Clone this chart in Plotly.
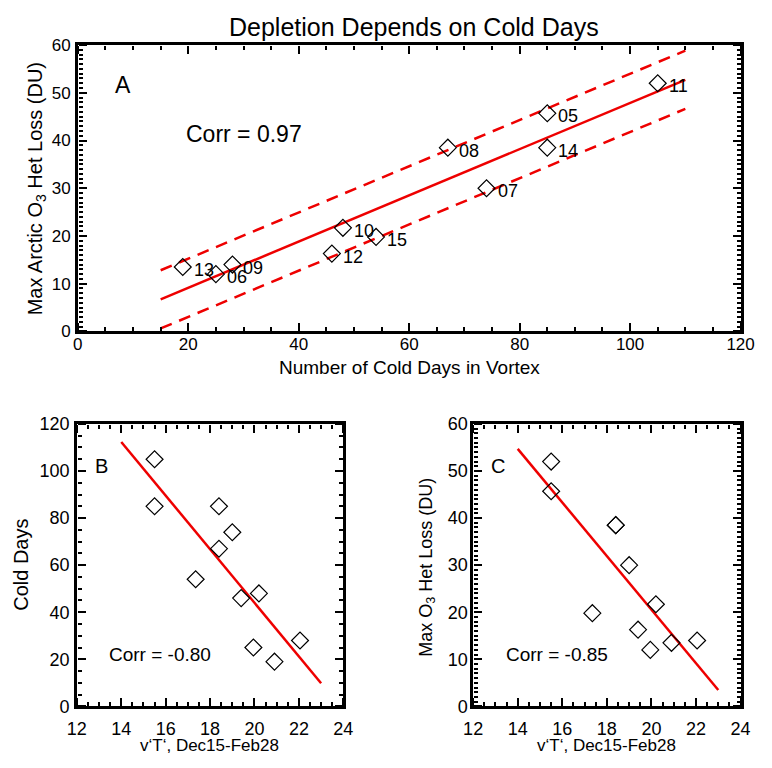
import numpy as np
import plotly.graph_objects as go

# ---- data ----
years = ["13", "06", "09", "12", "10", "15", "08", "07", "05", "14", "11"]
cold_days = [19, 25, 28, 46, 48, 54, 67, 74, 85, 85, 105]
o3_loss = [13.5, 12.0, 14.0, 16.3, 21.7, 19.8, 38.5, 30.0, 45.7, 38.5, 52.0]
vT = [20.9, 19.95, 22.05, 19.4, 20.2, 17.35, 18.4, 19.0, 15.5, 18.4, 15.5]
corr_labels = ["Corr = 0.97", "Corr = -0.80", "Corr = -0.85"]
band_half = 6.1
fitA_range = [15, 110]
fitBC_range = [14, 23]

ARIAL = "Liberation Sans, Arial, sans-serif"
RED = "#ee0000"

fig = go.Figure()

def add_fit(x, y, xr, xa, ya, band=None):
    m, b = np.polyfit(x, y, 1)
    xs = np.array(xr, dtype=float)
    fig.add_trace(go.Scatter(x=xs, y=m * xs + b, mode="lines", xaxis=xa, yaxis=ya,
                             line=dict(color=RED, width=2.5), showlegend=False, hoverinfo="skip"))
    if band is not None:
        for s in (1, -1):
            fig.add_trace(go.Scatter(x=xs, y=m * xs + b + s * band, mode="lines", xaxis=xa, yaxis=ya,
                                     line=dict(color=RED, width=2.5, dash="12px,8px"),
                                     showlegend=False, hoverinfo="skip"))

marker = dict(symbol="diamond-open", size=13, color="black", line=dict(width=1.2, color="black"))

add_fit(cold_days, o3_loss, fitA_range, "x", "y", band=band_half)
fig.add_trace(go.Scatter(x=cold_days, y=o3_loss, mode="markers", marker=marker,
                         xaxis="x", yaxis="y", showlegend=False))
for xv, yv, t in zip(cold_days, o3_loss, years):
    fig.add_annotation(x=xv, y=yv, xref="x", yref="y", text=t, showarrow=False,
                       xanchor="left", yanchor="middle", xshift=9, yshift=-3,
                       font=dict(family=ARIAL, size=18, color="black"))

add_fit(vT, cold_days, fitBC_range, "x2", "y2")
fig.add_trace(go.Scatter(x=vT, y=cold_days, mode="markers", marker=marker,
                         xaxis="x2", yaxis="y2", showlegend=False))
add_fit(vT, o3_loss, fitBC_range, "x3", "y3")
fig.add_trace(go.Scatter(x=vT, y=o3_loss, mode="markers", marker=marker,
                         xaxis="x3", yaxis="y3", showlegend=False))

W, H = 772, 768
def px_x(p): return p / W
def px_y(p): return 1 - p / H

def axis(domain, rng, dtick, anchor, size, standoff):
    return dict(domain=domain, range=rng, dtick=dtick, tick0=0, anchor=anchor,
                showline=True, linewidth=2.5, linecolor="black", mirror=True,
                ticks="", showgrid=False, zeroline=False, ticklabelstandoff=standoff,
                tickfont=dict(family=ARIAL, size=size, color="black"))

def tick_axis(base, rng, dtick, mdtick, side, pos):
    # free axis drawn on the opposite side of the frame so its outside ticks point inward
    return dict(overlaying=base, anchor="free", position=pos, side=side, range=rng,
                dtick=dtick, tick0=0, ticks="outside", ticklen=8, tickwidth=2, tickcolor="black",
                minor=dict(dtick=mdtick, ticks="outside", ticklen=4, tickwidth=1.5, tickcolor="black"),
                showticklabels=False, showgrid=False, zeroline=False, showline=False)

XA, YA = [px_x(70), px_x(754)], [px_y(330), px_y(36)]
XB, YBC = [px_x(69), px_x(344)], [px_y(715), px_y(425)]
XC = [px_x(478), px_x(754)]

layout = dict(
    width=W, height=H, autosize=False, margin=dict(l=0, r=0, t=0, b=0),
    paper_bgcolor="white", plot_bgcolor="white",
    xaxis=axis(XA, [0, 120], 20, "y", 17, -5),
    yaxis=axis(YA, [0, 60], 10, "x", 17, 1),
    xaxis2=axis(XB, [12, 24], 2, "y2", 18, 4),
    yaxis2=axis(YBC, [0, 120], 20, "x2", 18, 1),
    xaxis3=axis(XC, [12, 24], 2, "y3", 18, 4),
    yaxis3=axis(YBC, [0, 60], 10, "x3", 18, -1),
)

panels = [
    ("x", "y", XA, YA, [0, 120], 20, 5, [0, 60], 10, 1),
    ("x2", "y2", XB, YBC, [12, 24], 2, 0.5, [0, 120], 20, 5),
    ("x3", "y3", XC, YBC, [12, 24], 2, 0.5, [0, 60], 10, 1),
]
n = 4
for bx, by, xd, yd, xr, xdt, xm, yr, ydt, ym in panels:
    ia, ib = n, n + 1
    layout[f"xaxis{ia}"] = tick_axis(bx, xr, xdt, xm, "top", yd[0])
    layout[f"xaxis{ib}"] = tick_axis(bx, xr, xdt, xm, "bottom", yd[1])
    layout[f"yaxis{ia}"] = tick_axis(by, yr, ydt, ym, "right", xd[0])
    layout[f"yaxis{ib}"] = tick_axis(by, yr, ydt, ym, "left", xd[1])
    for k in (ia, ib):
        fig.add_trace(go.Scatter(x=[None], y=[None], xaxis=f"x{k}", yaxis=f"y{k}",
                                 showlegend=False, hoverinfo="skip"))
    n += 2

fig.update_layout(**layout)

def note(text, x, y, xref, yref, size, angle=0):
    fig.add_annotation(text=text, x=x, y=y, xref=xref, yref=yref, showarrow=False,
                       textangle=angle, xanchor="center", yanchor="middle",
                       font=dict(family=ARIAL, size=size, color="black"))

note("Depletion Depends on Cold Days", px_x(417), px_y(17), "paper", "paper", 25)
note("Number of Cold Days in Vortex", px_x(412), px_y(367), "paper", "paper", 19)
note("Max Arctic O<sub>3</sub> Het Loss (DU)", px_x(27), px_y(184), "paper", "paper", 20, angle=-90)
note("v‘T‘, Dec15-Feb28", px_x(206), px_y(755), "paper", "paper", 17)
note("Cold Days", px_x(12), px_y(570), "paper", "paper", 20, angle=-90)
note("v‘T‘, Dec15-Feb28", px_x(616), px_y(755), "paper", "paper", 17)
note("Max O<sub>3</sub> Het Loss (DU)", px_x(430), px_y(572), "paper", "paper", 18, angle=-90)

note("A", 8.2, 51.6, "x", "y", 23)
note(corr_labels[0], 30, 41.4, "x", "y", 23)
note("B", 13.1, 102, "x2", "y2", 20)
note(corr_labels[1], 15.75, 22, "x2", "y2", 19)
note("C", 13.1, 51, "x3", "y3", 20)
note(corr_labels[2], 15.75, 11, "x3", "y3", 19)

fig.write_html("out.html")
